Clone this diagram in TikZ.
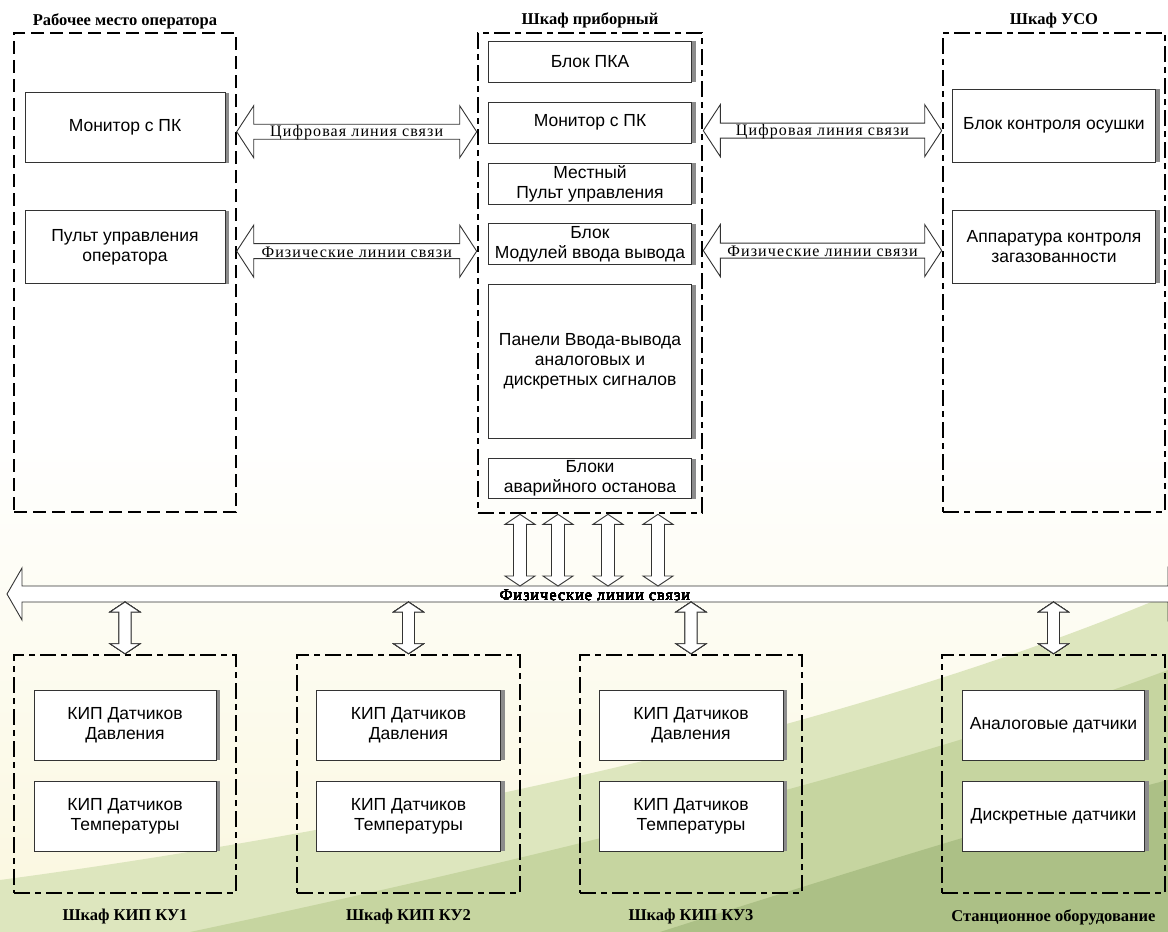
\documentclass[tikz,border=0pt]{standalone}
\usepackage{fontspec}
\setmainfont{Liberation Serif}
\newfontfamily\boxfont{Liberation Sans}
\newfontfamily\linkfont[LetterSpace=7]{Liberation Serif}
\usetikzlibrary{positioning}
\usetikzlibrary{calc}
\usetikzlibrary{shadows}
\definecolor{cream}{RGB}{250,247,222}
\definecolor{sage}{RGB}{221,230,190}
\definecolor{meadow}{RGB}{198,213,160}
\definecolor{moss}{RGB}{172,192,134}
\tikzset{
    cabinet/.style={draw=black, line width=2.6pt, dash pattern=on 16pt off 5pt on 6pt off 5pt},
    cabinet thin/.style={draw=black, line width=1.4pt, dash pattern=on 13pt off 6pt},
    module/.style={draw=black!80, fill=white, line width=0.9pt, align=center, inner sep=2pt,
      font=\boxfont\fontsize{17.5}{20}\selectfont,
      drop shadow={shadow xshift=4pt, shadow yshift=0pt, fill=black!45, opacity=1}},
    cabtitle/.style={font=\bfseries\fontsize{16.5}{19}\selectfont, inner sep=1pt},
    linkshape/.style={draw=black!80, fill=white, line width=0.9pt, line join=miter},
    linklabel/.style={font=\linkfont\fontsize{16}{18}\selectfont, inner sep=0pt},
  }
% hollow arrow with two heads: from, to, head length, head half width, shaft half width
\newcommand{\linkarrow}[5]{%
  \draw[linkshape] let \p1=(#1), \p2=(#2), \n1={atan2(\y2-\y1,\x2-\x1)},
      \n2={veclen(\x2-\x1,\y2-\y1)} in
    [shift={(\p1)}, rotate=\n1]
    (0,0) -- (#3,#4) -- (#3,#5) -- (\n2-#3,#5) -- (\n2-#3,#4) -- (\n2,0)
    -- (\n2-#3,-#4) -- (\n2-#3,-#5) -- (#3,-#5) -- (#3,-#4) -- cycle;}

\begin{document}
\begin{tikzpicture}[x=1pt, y=-1pt]
	% page and background
	\useasboundingbox (0,0) rectangle (1168,932);
	\fill[white] (0,0) rectangle (1168,932);
	\shade[top color=white, bottom color=cream] (0,430) rectangle (1168,932);
	\fill[sage] (0,932) -- (0,880) .. controls (300,840) and (800,750) .. (1168,595) -- (1168,932) -- cycle;
	\fill[meadow] (190,932) .. controls (520,862) and (900,770) .. (1168,670) -- (1168,932) -- cycle;
	\fill[moss] (660,932) .. controls (870,865) and (1050,810) .. (1168,780) -- (1168,932) -- cycle;
	% upper cabinets
	\node[cabinet thin, minimum width=222, minimum height=479] (opws) at (125,272.5) {};
	\node[cabinet, minimum width=224, minimum height=480] (cab) at (590,273) {};
	\node[cabinet, minimum width=222, minimum height=479] (uso) at (1054,272.5) {};
	\node[cabtitle, above=2pt of opws] (opwsT) {Рабочее место оператора};
	\node[cabtitle, above=2pt of cab] (cabT) {Шкаф приборный};
	\node[cabtitle, above=2pt of uso] (usoT) {Шкаф УСО};
	% lower cabinets
	\node[cabinet, minimum width=222, minimum height=238] (ku1) at (125,774) {};
	\node[cabinet, minimum width=223, minimum height=238] (ku2) at (408.5,774) {};
	\node[cabinet, minimum width=222, minimum height=238] (ku3) at (691,774) {};
	\node[cabinet, minimum width=223, minimum height=238] (stat) at (1053.5,774) {};
	\node[cabtitle, below=14pt of ku1] (ku1T) {Шкаф КИП КУ1};
	\node[cabtitle, below=14pt of ku2] (ku2T) {Шкаф КИП КУ2};
	\node[cabtitle, below=14pt of ku3] (ku3T) {Шкаф КИП КУ3};
	\node[cabtitle, below=14pt of stat] (statT) {Станционное оборудование};
	% operator workplace
	\node[module, minimum width=200, minimum height=70] (pcL) [below=60pt of opws.north] {Монитор с ПК};
	\node[module, minimum width=200, minimum height=73] (consoleL) [below=47pt of pcL] {Пульт управления\\оператора};
	% instrument cabinet
	\node[module, minimum width=203, minimum height=41] (pka) [below=9pt of cab.north] {Блок ПКА};
	\node[module, minimum width=203, minimum height=41] (pcC) [below=19pt of pka] {Монитор с ПК};
	\node[module, minimum width=203, minimum height=41] (localC) [below=19pt of pcC] {Местный\\Пульт управления};
	\node[module, minimum width=203, minimum height=41] (iomod) [below=19pt of localC] {Блок\\Модулей ввода вывода};
	\node[module, minimum width=203, minimum height=154] (panels) [below=19pt of iomod] {Панели Ввода-вывода\\аналоговых и\\дискретных сигналов};
	\node[module, minimum width=203, minimum height=40] (estop) [below=19pt of panels] {Блоки\\аварийного останова};
	% USO cabinet
	\node[module, minimum width=203, minimum height=73] (dryR) [below=57pt of uso.north] {Блок контроля осушки};
	\node[module, minimum width=203, minimum height=73] (gasR) [below=47pt of dryR] {Аппаратура контроля\\загазованности};
	% field cabinets
	\node[module, minimum width=182, minimum height=70] (p1) [below=36pt of ku1.north] {КИП Датчиков\\Давления};
	\node[module, minimum width=182, minimum height=70] (t1) [below=20pt of p1] {КИП Датчиков\\Температуры};
	\node[module, minimum width=184, minimum height=70] (p2) [below=36pt of ku2.north] {КИП Датчиков\\Давления};
	\node[module, minimum width=184, minimum height=70] (t2) [below=20pt of p2] {КИП Датчиков\\Температуры};
	\node[module, minimum width=184, minimum height=70] (p3) [below=36pt of ku3.north] {КИП Датчиков\\Давления};
	\node[module, minimum width=184, minimum height=70] (t3) [below=20pt of p3] {КИП Датчиков\\Температуры};
	\node[module, minimum width=182, minimum height=70] (analog) [below=36pt of stat.north] {Аналоговые датчики};
	\node[module, minimum width=182, minimum height=70] (discrete) [below=20pt of analog] {Дискретные датчики};
	% links between upper cabinets
	\linkarrow{$(pcL.center -| opws.east)+(0,4)$}{$(pcL.center -| cab.west)+(0,4)$}{17}{26}{7.5}
	\linkarrow{$(consoleL.center -| opws.east)+(0,4)$}{$(consoleL.center -| cab.west)+(0,4)$}{17}{26}{7.5}
	\linkarrow{$(dryR.center -| cab.east)+(0,5)$}{$(dryR.center -| uso.west)+(0,5)$}{17}{26}{7.5}
	\linkarrow{$(gasR.center -| cab.east)+(0,4)$}{$(gasR.center -| uso.west)+(0,4)$}{17}{26}{7.5}
	\node[linklabel] (digL) at ($(pcL.center -| opws.east)!.5!(pcL.center -| cab.west)+(0,5)$) {Цифровая линия связи};
	\node[linklabel] (physL) at ($(consoleL.center -| opws.east)!.5!(consoleL.center -| cab.west)+(0,5)$) {Физические линии связи};
	\node[linklabel] (digR) at ($(dryR.center -| cab.east)!.5!(dryR.center -| uso.west)+(0,6)$) {Цифровая линия связи};
	\node[linklabel] (physR) at ($(gasR.center -| cab.east)!.5!(gasR.center -| uso.west)+(0,5)$) {Физические линии связи};
	% field bus
	\coordinate (busL) at (7,594);
	\coordinate (busR) at (1183,594);
	\coordinate (bustop) at (0,586);
	\coordinate (busbot) at (0,602);
	\linkarrow{busL}{busR}{15}{26}{8}
	\foreach \dx in {-70,-32,18,68}
		\linkarrow{$(cab.south)+(\dx,0)$}{$(cab.south |- bustop)+(\dx,0)$}{10}{15}{6.5}
	\foreach \cab in {ku1,ku2,ku3,stat}
		\linkarrow{\cab.north |- busbot}{\cab.north}{10}{15}{6}
	\node[linklabel] (physBus) at (595,595) {Физические линии связи};
\end{tikzpicture}
\end{document}
